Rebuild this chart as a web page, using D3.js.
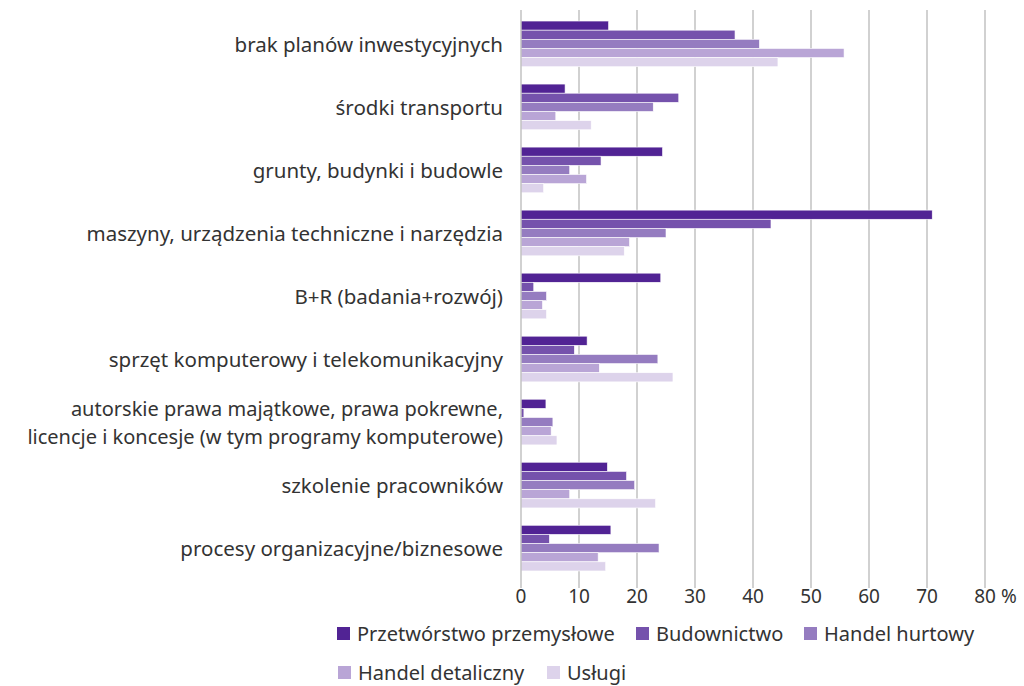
<!DOCTYPE html>
<html><head><meta charset="utf-8">
<script src="https://cdn.jsdelivr.net/npm/d3@7"></script>
<style>body{margin:0;background:#fff;} svg{display:block;} text{font-family:"Noto Sans",sans-serif;fill:#333;}</style>
</head><body>
<svg id="c" width="1024" height="686"></svg>
<script>
const categories = [
  ["brak planów inwestycyjnych"],
  ["środki transportu"],
  ["grunty, budynki i budowle"],
  ["maszyny, urządzenia techniczne i narzędzia"],
  ["B+R (badania+rozwój)"],
  ["sprzęt komputerowy i telekomunikacyjny"],
  ["autorskie prawa majątkowe, prawa pokrewne,", "licencje i koncesje (w tym programy komputerowe)"],
  ["szkolenie pracowników"],
  ["procesy organizacyjne/biznesowe"]
];
const seriesNames = ["Przetwórstwo przemysłowe","Budownictwo","Handel hurtowy","Handel detaliczny","Usługi"];
const przetworstwo = [15.1, 7.6, 24.4, 70.9, 24.1, 11.4, 4.3, 14.9, 15.5];
const budownictwo  = [36.9, 27.2, 13.8, 43.1, 2.2, 9.2, 0.5, 18.2, 4.9];
const hurtowy      = [41.1, 22.8, 8.4, 25.0, 4.4, 23.6, 5.5, 19.6, 23.8];
const detaliczny   = [55.7, 6.0, 11.3, 18.7, 3.7, 13.5, 5.2, 8.4, 13.3];
const uslugi       = [44.3, 12.1, 3.9, 17.8, 4.4, 26.2, 6.2, 23.2, 14.6];
const xTicks = [0,10,20,30,40,50,60,70,80];
const colors = ["#512394","#7552ac","#957cc0","#b9a5d6","#ddd3eb"];

const series = [przetworstwo,budownictwo,hurtowy,detaliczny,uslugi];
const svg = d3.select("#c");
const x = d3.scaleLinear().domain([0,80]).range([521,985]);
const y = d3.scaleBand().domain(d3.range(categories.length)).range([10,582]).paddingInner(0.275).paddingOuter(0.175);
const ys = d3.scaleBand().domain(d3.range(5)).range([0,y.bandwidth()]);

// grid
svg.append("g").selectAll("line").data(xTicks.slice(1)).join("line")
  .attr("x1",d=>x(d)).attr("x2",d=>x(d)).attr("y1",10).attr("y2",588)
  .attr("stroke","#b8b8b8").attr("stroke-width",1.3);

// bars
const g = svg.append("g").selectAll("g").data(categories).join("g")
  .attr("transform",(d,i)=>`translate(0,${y(i)})`);
g.selectAll("rect").data((d,i)=>series.map((s,k)=>({k,v:s[i]}))).join("rect")
  .attr("x",x(0)).attr("y",d=>ys(d.k)).attr("height",ys.bandwidth())
  .attr("width",d=>x(d.v)-x(0)).attr("fill",d=>colors[d.k])
  .attr("stroke","#fff").attr("stroke-width",0.6);

// zero axis
svg.append("line").attr("x1",x(0)).attr("x2",x(0)).attr("y1",10).attr("y2",588)
  .attr("stroke","#b8b8b8").attr("stroke-width",1.3);

// tick labels
const tickG = svg.append("g");
tickG.selectAll("text").data(xTicks).join("text")
  .attr("x",d=>x(d)).attr("y",603).attr("text-anchor","middle")
  .attr("font-size",19).text(d=>d);
const w80 = tickG.select("text:last-child").node().getComputedTextLength();
svg.append("text").attr("x",x(80)+w80/2+5).attr("y",603).attr("font-size",19).text("%");

// category labels
const lab = svg.append("g").selectAll("text").data(categories).join("text")
  .attr("text-anchor","end").attr("font-size",d=>d.length>1?20:20.5)
  .attr("transform",(d,i)=>`translate(503,${y(i)+y.bandwidth()/2})`);
lab.each(function(d){
  const t=d3.select(this);
  const n=d.length;
  d.forEach((line,j)=>{
    t.append("tspan").attr("x",0).attr("y",(j-(n-1)/2)*27.4+8).text(line);
  });
});

// legend
const legendItems = [
  {k:0,x:337,y:641},{k:1,x:636,y:641},{k:2,x:804,y:641},
  {k:3,x:338,y:680},{k:4,x:547,y:680}
];
const lg = svg.append("g").selectAll("g").data(legendItems).join("g")
  .attr("transform",d=>`translate(${d.x},${d.y})`);
lg.append("rect").attr("x",0).attr("y",-14).attr("width",13).attr("height",13).attr("fill",d=>colors[d.k]);
lg.append("text").attr("x",20).attr("y",0).attr("font-size",20).text(d=>seriesNames[d.k]);
</script>
</body></html>
